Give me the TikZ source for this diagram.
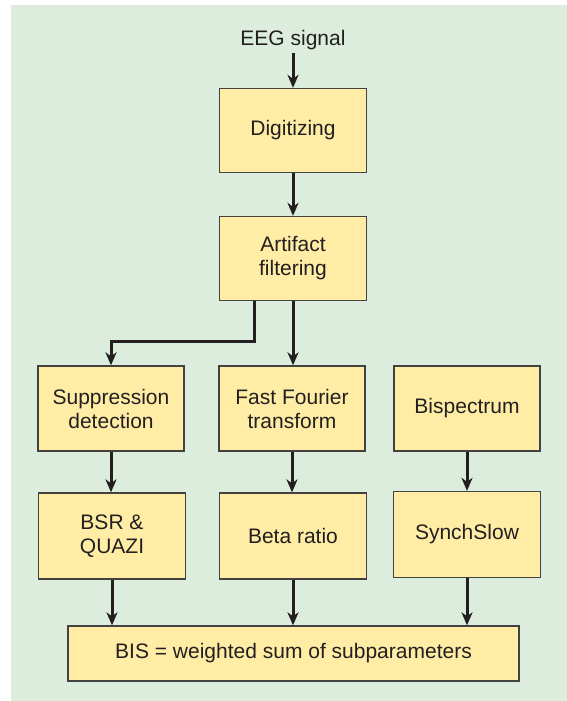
\documentclass[tikz,border=0pt]{standalone}
\usepackage{fontspec}
\setmainfont{Liberation Sans}
\usetikzlibrary{arrows.meta}

\definecolor{panelgreen}{RGB}{221,237,221}
\definecolor{boxyellow}{RGB}{255,237,166}
\definecolor{inkgray}{RGB}{35,31,32}

\tikzset{
  stagebox/.style={draw=inkgray!85, line width=1.3pt, fill=boxyellow, rectangle,
    minimum width=147pt, minimum height=84pt, inner sep=0pt, align=center,
    text=inkgray, font=\fontsize{21}{24}\selectfont},
  flow/.style={-{Stealth[length=13pt,width=11pt,inset=4pt]}, line width=3pt, draw=inkgray}
}

\begin{document}
\begin{tikzpicture}[x=1pt, y=1pt]
            % Page and green panel behind the chart.
            \useasboundingbox (0,0) rectangle (567,-701);
            \fill[panelgreen] (11,-5) rectangle (567,-701);

            % Input and the two first stages.
            \node[text=inkgray, font=\fontsize{21}{24}\selectfont] (eeg) at (293,-40) {EEG signal};
            \node[stagebox] (dig) at (293,-130.5) {Digitizing};
            \node[stagebox] (art) at (293,-258.5) {Artifact\\filtering};

            % Three branches: first row.
            \node[stagebox, minimum width=146pt, minimum height=85pt] (sup) at (111,-408.5) {Suppression\\detection};
            \node[stagebox, minimum width=146pt, minimum height=85pt] (fft) at (292,-408.5) {Fast Fourier\\transform};
            \node[stagebox, minimum width=146pt, minimum height=85pt] (bsp) at (467,-408.5) {Bispectrum};

            % Second row: subparameters.
            \node[stagebox, minimum height=86pt] (bsr) at (112,-536) {BSR \&\\QUAZI};
            \node[stagebox, minimum height=86pt] (beta) at (293,-536) {Beta ratio};
            \node[stagebox, minimum height=86pt] (sync) at (467,-534.5) {SynchSlow};

            % Final combination.
            \node[stagebox, minimum width=451pt, minimum height=55pt] (sum) at (293.5,-653.5) {BIS = weighted sum of subparameters};

            % Connectors.
            \draw[flow] (eeg) -- (dig);
            \draw[flow] (dig) -- (art);
            \draw[flow] ([xshift=-39pt]art.south) -- ++(0,-40) -| (sup.north);
            \draw[flow] (art.south) -- (art.south |- fft.north);
            \foreach \a/\b in {sup/bsr, fft/beta, bsp/sync} {
                \draw[flow] (\a.south) -- (\a.south |- \b.north);
            }
            \foreach \a in {bsr, beta, sync} {
                \draw[flow] (\a.south) -- (\a.south |- sum.north);
            }
        \end{tikzpicture}
\end{document}
